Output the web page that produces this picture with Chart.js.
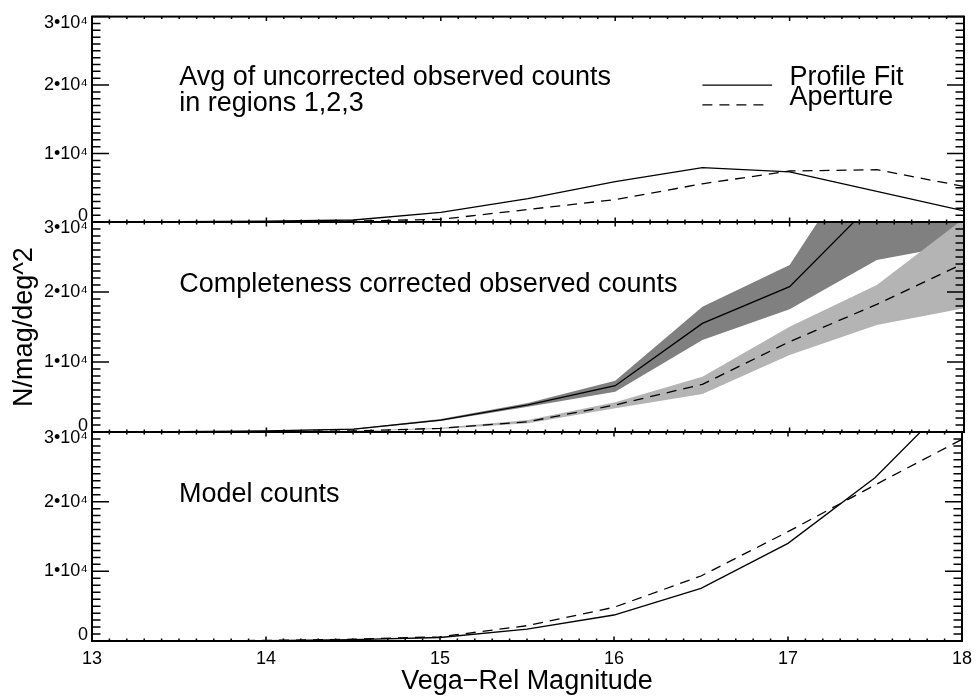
<!DOCTYPE html>
<html>
<head>
<meta charset="utf-8">
<title>Observed and model counts vs Vega-Rel magnitude</title>
<script src="https://cdn.jsdelivr.net/npm/chart.js@4.4.1/dist/chart.umd.min.js"></script>
<style>
  body { margin: 0; background: #fff; }
  #wrap { position: relative; width: 979px; height: 698px; }
  #wrap canvas { position: absolute; left: 0; }
</style>
</head>
<body>
<div id="wrap">
  <canvas id="panelTop" width="979" height="242" style="top:0px"></canvas>
  <canvas id="panelMid" width="979" height="250" style="top:202px"></canvas>
  <canvas id="panelBot" width="979" height="286" style="top:412px"></canvas>
</div>
<script>
// magnitude bins shared by every panel
const mags = [13, 13.5, 14, 14.5, 15, 15.5, 16, 16.5, 17, 17.5, 18];

// panel 1: average of uncorrected observed counts (regions 1,2,3)
const profileObs  = [20, 40, 120, 290, 1400, 3420, 5910, 7930, 7310, 4470, 1630];
const apertureObs = [10, 20, 50, 130, 390, 1830, 3270, 5580, 7450, 7640, 5190];

// panel 2: completeness corrected counts with their ranges
const profileCorr  = [20, 50, 150, 400, 1710, 3860, 6610, 15520, 20760, 33300, 44000];
const profileHi    = [25, 60, 180, 470, 1850, 4150, 7330, 17900, 23860, 42900, 52000];
const profileLo    = [15, 40, 120, 330, 1580, 3600, 5760, 13140, 17530, 24570, 26900];
const apertureCorr = [10, 20, 60, 150, 530, 1470, 3860, 6810, 12900, 18240, 24100];
const apertureHi   = [12, 25, 70, 180, 620, 1700, 4240, 7900, 15050, 21000, 30500];
const apertureLo   = [8, 15, 50, 120, 440, 1250, 3390, 5430, 11000, 15290, 17670];

// panel 3: model counts
const profileModel  = [5, 20, 60, 200, 500, 1700, 3730, 7560, 14020, 23440, 36000];
const apertureModel = [5, 25, 80, 250, 600, 2200, 4840, 9330, 15690, 22390, 28950];

const FONT = "'Liberation Sans', Arial, Helvetica, sans-serif";
Chart.defaults.font.family = FONT;
Chart.defaults.color = '#000';

function pts(vals) {
  return mags.map((m, i) => ({ x: m, y: vals[i] }));
}

function lineSet(label, vals, dashed) {
  return {
    label: label,
    data: pts(vals),
    borderColor: '#000',
    borderWidth: 1.3,
    borderDash: dashed ? [10, 7] : [],
    pointRadius: 0,
    fill: false,
    order: 0
  };
}

// two datasets: lower edge, then upper edge filled down to it
function band(lo, hi, color, order) {
  return [
    { data: pts(lo), borderColor: 'rgba(0,0,0,0)', borderWidth: 0, pointRadius: 0, fill: false, order: order + 1 },
    { data: pts(hi), borderColor: 'rgba(0,0,0,0)', borderWidth: 0, pointRadius: 0, fill: '-1', backgroundColor: color, order: order }
  ];
}

function yLabel(value) {
  if (value === 0) return ['0', ''];
  if (value === 30000) return ['', '3\u202210\u2074'];
  return (value / 10000) + '\u202210\u2074';
}

// box, inward ticks on all four sides, text notes and key
const framePlugin = {
  id: 'frame',
  afterDraw(chart, args, opts) {
    const ctx = chart.ctx;
    const a = chart.chartArea;
    const x = chart.scales.x;
    const y = chart.scales.y;
    ctx.save();
    ctx.strokeStyle = '#000';
    ctx.lineWidth = 1.5;
    ctx.beginPath();
    for (let i = 130; i <= 180; i++) {
      const px = x.getPixelForValue(i / 10);
      const len = i % 10 === 0 ? 4.5 : 2.5;
      ctx.moveTo(px, a.top); ctx.lineTo(px, a.top + len);
      ctx.moveTo(px, a.bottom); ctx.lineTo(px, a.bottom - len);
    }
    for (let v = 0; v <= 30000; v += 1000) {
      const py = y.getPixelForValue(v);
      const len = v % 10000 === 0 ? 17 : 8.5;
      ctx.moveTo(a.left, py); ctx.lineTo(a.left + len, py);
      ctx.moveTo(a.right, py); ctx.lineTo(a.right - len, py);
    }
    ctx.stroke();
    ctx.lineWidth = 2;
    ctx.strokeRect(a.left, a.top, a.right - a.left, a.bottom - a.top);

    ctx.fillStyle = '#000';
    ctx.font = '27px ' + FONT;
    ctx.textBaseline = 'alphabetic';
    ctx.textAlign = 'left';
    (opts.notes || []).forEach(n => {
      ctx.fillText(n.text, x.getPixelForValue(n.x), y.getPixelForValue(n.y));
    });
    (opts.keys || []).forEach(k => {
      const py = y.getPixelForValue(k.y);
      ctx.lineWidth = 1.3;
      ctx.setLineDash(k.dashed ? [10, 7] : []);
      ctx.beginPath();
      ctx.moveTo(x.getPixelForValue(k.x0), py);
      ctx.lineTo(x.getPixelForValue(k.x1), py);
      ctx.stroke();
      ctx.setLineDash([]);
      ctx.fillText(k.text, x.getPixelForValue(k.tx), py);
    });
    ctx.restore();
  }
};

function makePanel(canvasId, datasets, cfg) {
  const yTitle = cfg.yTitle || '';
  return new Chart(document.getElementById(canvasId), {
    type: 'line',
    data: { datasets: datasets },
    plugins: [framePlugin],
    options: {
      responsive: false,
      animation: false,
      events: [],
      layout: { padding: cfg.padding },
      elements: { line: { tension: 0 } },
      plugins: {
        legend: { display: false },
        tooltip: { enabled: false },
        frame: { notes: cfg.notes, keys: cfg.keys || [] }
      },
      scales: {
        x: {
          type: 'linear',
          min: 13,
          max: 18,
          display: cfg.showX,
          afterFit: s => { if (cfg.showX) s.height = 57; },
          grid: { display: false, drawTicks: false },
          border: { display: false },
          ticks: { stepSize: 1, padding: 7, maxRotation: 0, font: { size: 18 } },
          title: {
            display: true,
            text: 'Vega\u2212Rel Magnitude',
            font: { size: 27 },
            padding: { top: 0, bottom: 0 }
          }
        },
        y: {
          min: 0,
          max: 30000,
          afterFit: s => { s.width = 92; },
          grid: { display: false, drawTicks: false },
          border: { display: false },
          ticks: {
            stepSize: 10000,
            padding: 4,
            autoSkip: false,
            font: { size: 18, lineHeight: 0.7 },
            callback: yLabel
          },
          title: {
            display: yTitle !== '',
            text: yTitle,
            font: { size: 27 },
            padding: { top: 8, bottom: 0 }
          }
        }
      }
    }
  });
}

makePanel('panelTop', [
  lineSet('Profile Fit', profileObs, false),
  lineSet('Aperture', apertureObs, true)
], {
  showX: false,
  padding: { top: 14, right: 15, bottom: 20, left: 0 },
  notes: [
    { text: 'Avg of uncorrected observed counts', x: 13.5, y: 20000 },
    { text: 'in regions 1,2,3', x: 13.5, y: 16200 }
  ],
  keys: [
    { text: 'Profile Fit', x0: 16.5, x1: 16.9, tx: 17.0, y: 20000, dashed: false },
    { text: 'Aperture', x0: 16.5, x1: 16.86, tx: 17.0, y: 17100, dashed: true }
  ]
});

makePanel('panelMid', [
  ...band(profileLo, profileHi, '#808080', 3),
  ...band(apertureLo, apertureHi, '#b4b4b4', 1),
  lineSet('Profile Fit', profileCorr, false),
  lineSet('Aperture', apertureCorr, true)
], {
  showX: false,
  yTitle: 'N/mag/deg^2',
  padding: { top: 20, right: 15, bottom: 20, left: 0 },
  notes: [
    { text: 'Completeness corrected observed counts', x: 13.5, y: 20000 }
  ]
});

makePanel('panelBot', [
  lineSet('Profile Fit', profileModel, false),
  lineSet('Aperture', apertureModel, true)
], {
  showX: true,
  padding: { top: 20, right: 15, bottom: 0, left: 0 },
  notes: [
    { text: 'Model counts', x: 13.5, y: 20000 }
  ]
});
</script>
</body>
</html>
